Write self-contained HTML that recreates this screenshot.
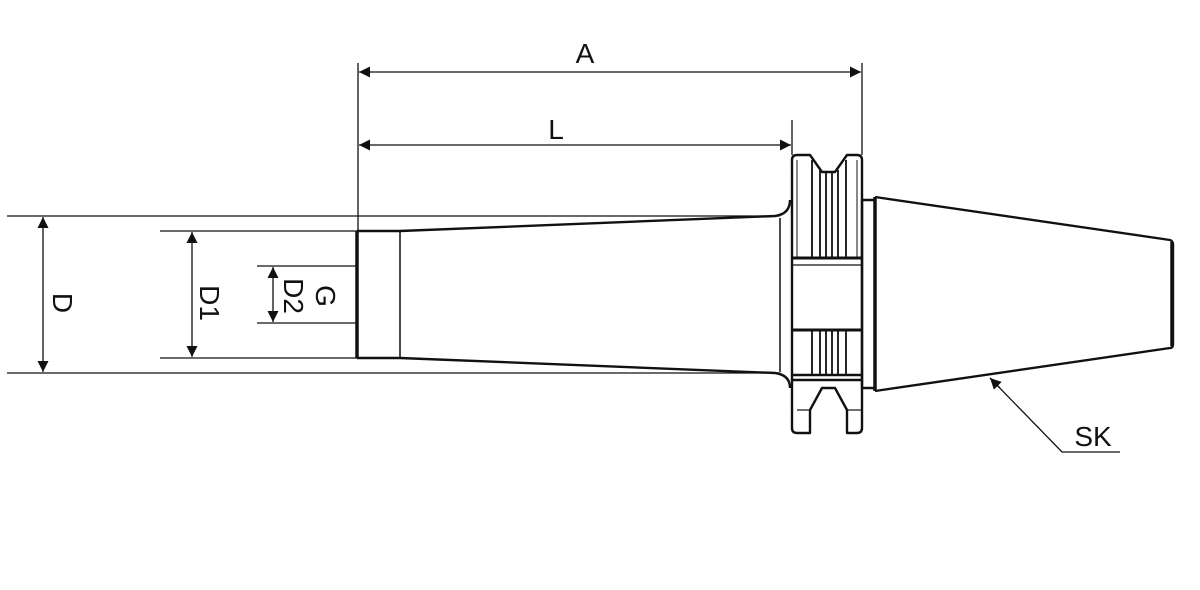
<!DOCTYPE html>
<html><head><meta charset="utf-8"><style>
html,body{margin:0;padding:0;background:#fff;width:1200px;height:590px;overflow:hidden}
text{font-family:"Liberation Sans",sans-serif;fill:#111}
</style></head><body>
<svg width="1200" height="590" viewBox="0 0 1200 590" xmlns="http://www.w3.org/2000/svg">
<defs>
<marker id="ar" viewBox="0 0 10 10" refX="10" refY="5" markerWidth="18" markerHeight="11" markerUnits="userSpaceOnUse" orient="auto-start-reverse"><path d="M0,0 L10,5 L0,10 z" fill="#111"/></marker>
</defs>
<g stroke="#111" fill="none" stroke-width="1.3">
<line x1="7" y1="216" x2="780" y2="216"/>
<line x1="7" y1="373" x2="780" y2="373"/>
<line x1="160" y1="231" x2="357" y2="231"/>
<line x1="160" y1="358" x2="357" y2="358"/>
<line x1="257" y1="266" x2="357" y2="266"/>
<line x1="257" y1="323" x2="357" y2="323"/>
<line x1="358" y1="63" x2="358" y2="231"/>
<line x1="862" y1="63" x2="862" y2="155"/>
<line x1="792" y1="120" x2="792" y2="155"/>
<line x1="43" y1="217" x2="43" y2="372" marker-start="url(#ar)" marker-end="url(#ar)"/>
<line x1="192" y1="232" x2="192" y2="357" marker-start="url(#ar)" marker-end="url(#ar)"/>
<line x1="273" y1="267" x2="273" y2="322" marker-start="url(#ar)" marker-end="url(#ar)"/>
<line x1="359" y1="72" x2="861" y2="72" marker-start="url(#ar)" marker-end="url(#ar)"/>
<line x1="359" y1="145" x2="791" y2="145" marker-start="url(#ar)" marker-end="url(#ar)"/>
<polyline points="1120,452 1062,452 990,378"/>
</g>
<line x1="990" y1="378" x2="1000" y2="388" stroke="#111" stroke-width="1.3" marker-start="url(#ar)"/>
<g stroke="#111" fill="none" stroke-width="2.4" stroke-linejoin="round">
<line x1="357" y1="231" x2="357" y2="358" stroke-width="3.5"/>
<line x1="357" y1="231" x2="400" y2="231"/>
<line x1="357" y1="358" x2="400" y2="358"/>
<line x1="400" y1="231" x2="400" y2="358" stroke-width="1.5"/>
<path d="M400,231 L775,216 Q790,214 790,200"/>
<path d="M400,358 L775,373 Q790,375 790,388"/>
<line x1="780" y1="218" x2="780" y2="372" stroke-width="1.5"/>
<path d="M792,160 Q792,155 797,155 L810,155 L822,172 L835,172 L847,155 L857,155 Q862,155 862,160 L862,428 Q862,433 857,433 L847,433 L847,410 L835,388 L822,388 L810,410 L810,433 L797,433 Q792,433 792,428 Z"/>
<line x1="792" y1="258" x2="862" y2="258" stroke-width="3"/>
<line x1="792" y1="330" x2="862" y2="330" stroke-width="3"/>
<line x1="792" y1="375" x2="862" y2="375"/>
<line x1="792" y1="380" x2="862" y2="380"/>
<line x1="792" y1="265" x2="862" y2="265" stroke-width="1.2"/>
<g stroke-width="1.8">
<line x1="812" y1="160" x2="812" y2="258"/><line x1="820" y1="170" x2="820" y2="258"/>
<line x1="826" y1="172" x2="826" y2="258"/><line x1="832" y1="172" x2="832" y2="258"/>
<line x1="838" y1="170" x2="838" y2="258"/><line x1="846" y1="160" x2="846" y2="258"/>
<line x1="812" y1="330" x2="812" y2="375"/><line x1="820" y1="330" x2="820" y2="375"/>
<line x1="826" y1="330" x2="826" y2="375"/><line x1="832" y1="330" x2="832" y2="375"/>
<line x1="838" y1="330" x2="838" y2="375"/><line x1="846" y1="330" x2="846" y2="375"/>
<line x1="797" y1="160" x2="797" y2="258" stroke-width="1"/><line x1="857" y1="160" x2="857" y2="258" stroke-width="1"/>
<line x1="797" y1="410" x2="810" y2="410" stroke-width="1.2"/><line x1="847" y1="410" x2="862" y2="410" stroke-width="1.2"/>
</g>
<rect x="862" y="200" width="13" height="188"/>
<line x1="875" y1="197" x2="875" y2="391" stroke-width="3.5"/>
<path d="M875,197 L1170,240 Q1173,241 1173,245 L1173,344 Q1173,348 1170,348 L875,391"/>
<line x1="1172" y1="242" x2="1172" y2="346" stroke-width="3.5"/>
</g>
<text x="585" y="63" font-size="28" text-anchor="middle">A</text>
<text x="556" y="139" font-size="28" text-anchor="middle">L</text>
<text x="1093" y="446" font-size="28" text-anchor="middle">SK</text>
<text font-size="28" text-anchor="middle" transform="translate(53,303) rotate(90)">D</text>
<text font-size="28" text-anchor="middle" transform="translate(200,303) rotate(90)">D1</text>
<text font-size="28" text-anchor="middle" transform="translate(284,296) rotate(90)">D2</text>
<text font-size="28" text-anchor="middle" transform="translate(316,296) rotate(90)">G</text>
</svg>
</body></html>
